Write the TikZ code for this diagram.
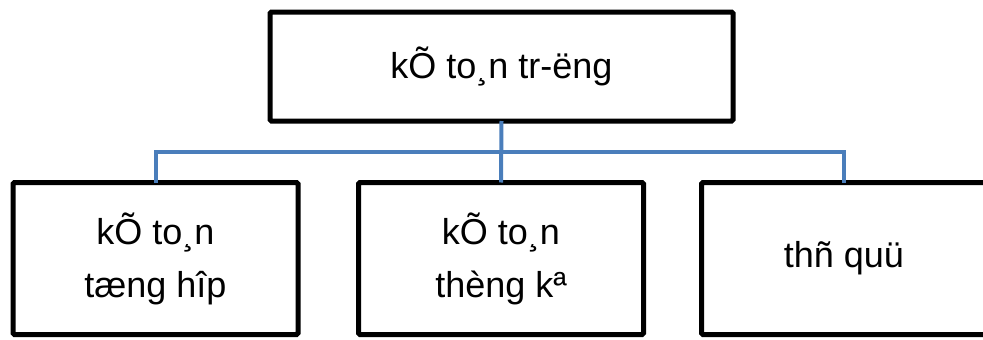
\documentclass[tikz,border=0pt]{standalone}
\usepackage{fontspec}
\setmainfont{Liberation Sans}
\definecolor{linkblue}{HTML}{4A7EBB}
\begin{document}
\begin{tikzpicture}[x=1pt,y=-1pt,
  box/.style={draw=black,line width=5pt,rounded corners=1.5pt,align=center,
    font=\fontsize{36}{53}\selectfont,inner sep=0pt,outer sep=0pt},
  topbox/.style={box,minimum width=463pt,minimum height=109pt},
  childbox/.style={box,minimum width=285pt,minimum height=152pt},
  link/.style={draw=linkblue,line width=4pt}]
\clip (0,0) rectangle (983,340);
\node[topbox] (top) at (501.5,66.5) {kÕ to¸n tr-ëng};
\node[childbox] (left) at (155.5,258.5) {kÕ to¸n\\tæng hîp};
\node[childbox] (mid) at (501,258.5) {kÕ to¸n\\thèng kª};
\node[childbox] (right) at (844,258.5) {thñ quü};
\coordinate (bus) at (0,152);
\path[link] (top.south) -- (mid.north);
\path[link] (left.north) -- (left.north |- bus) -- (right.north |- bus) -- (right.north);
\end{tikzpicture}
\end{document}
